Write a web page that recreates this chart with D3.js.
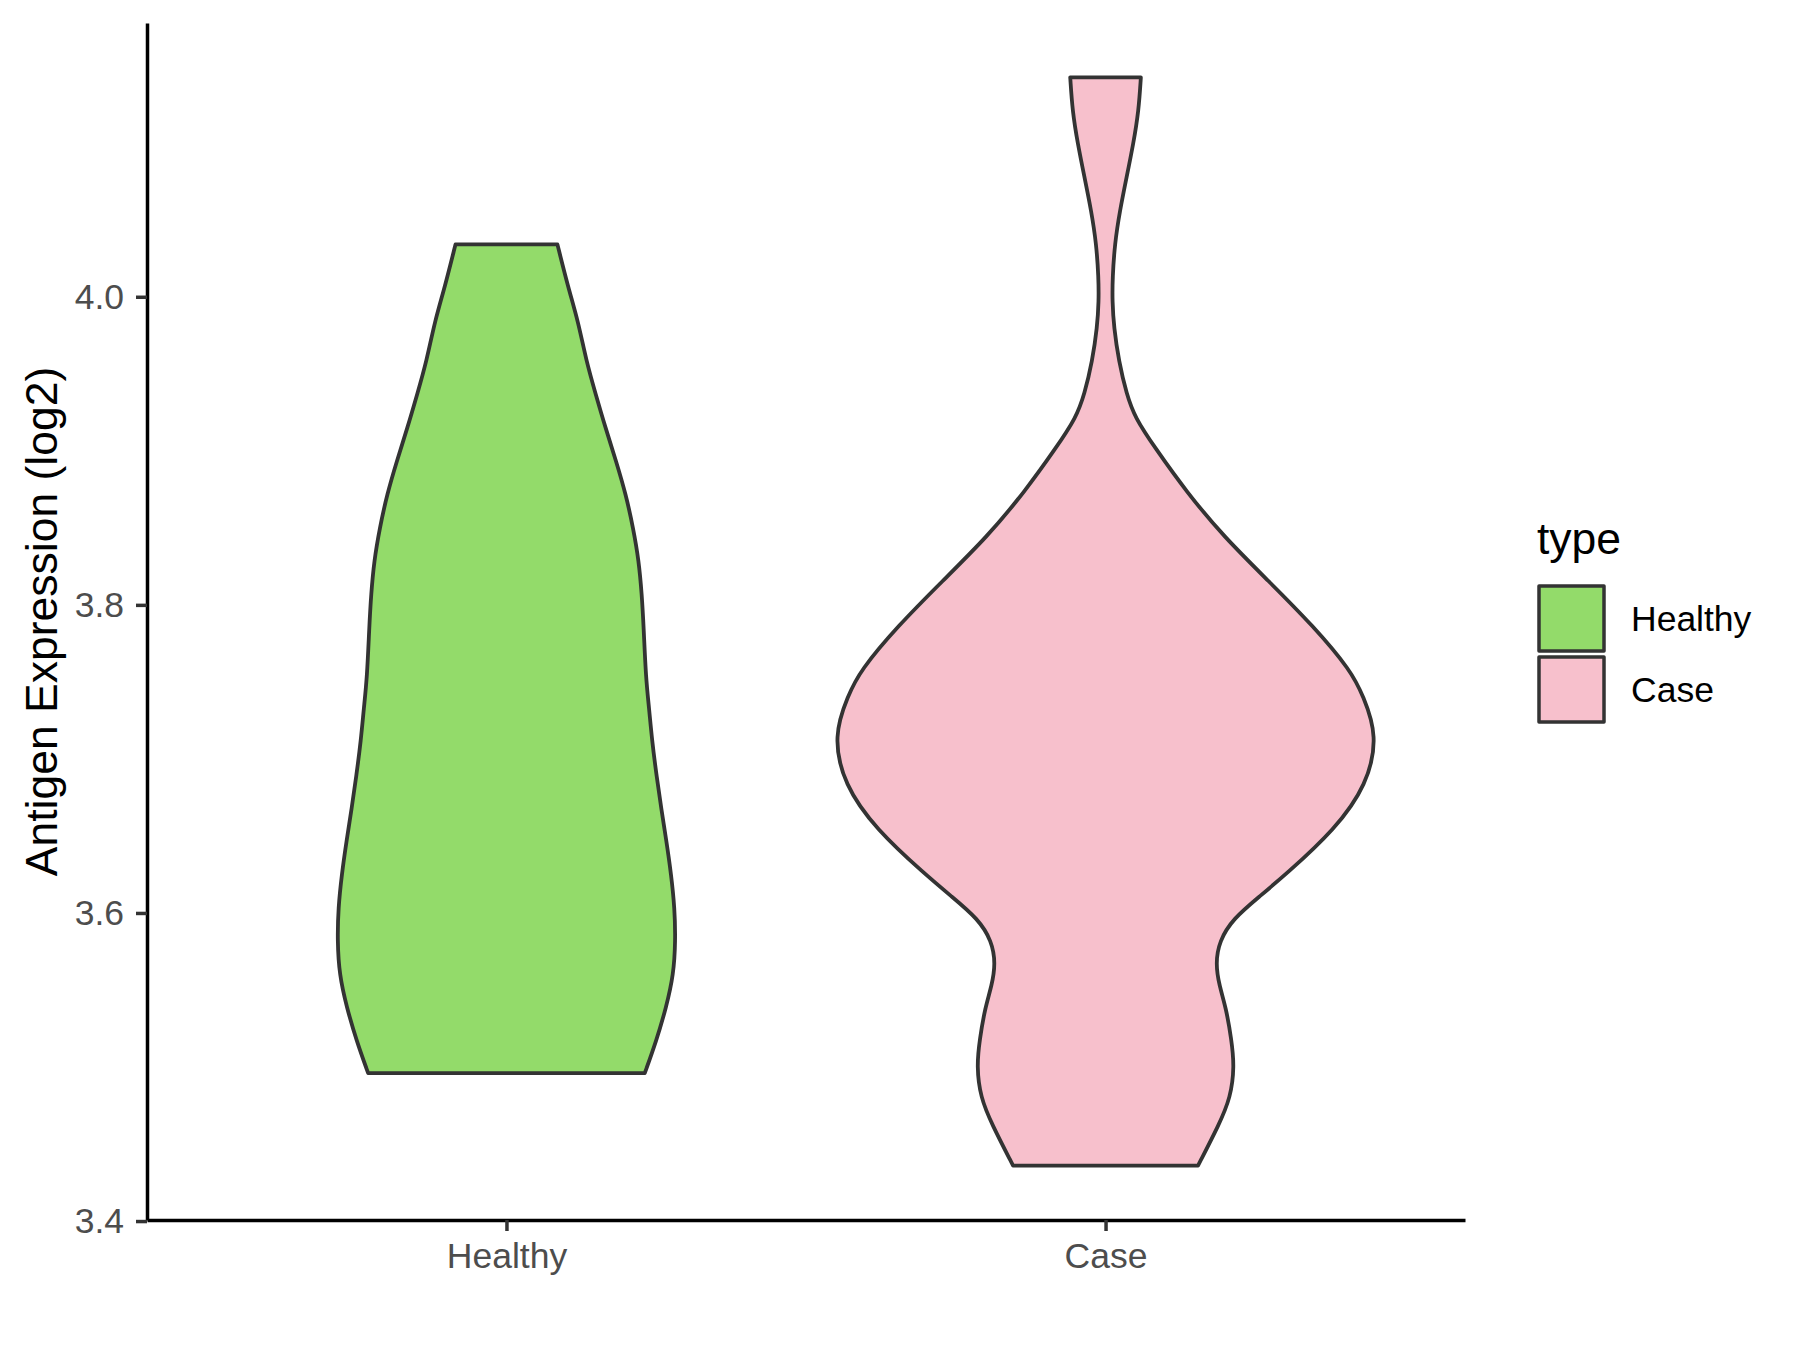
<!DOCTYPE html>
<html>
<head>
<meta charset="utf-8">
<script src="https://cdn.jsdelivr.net/npm/d3@7"></script>
<style>
  body { margin: 0; background: #fff; }
  text { font-family: "Liberation Sans", Arial, sans-serif; }
</style>
</head>
<body>
<div id="chart"></div>
<script>
// categories and fill colours
var groups = ["Healthy", "Case"];
var fills = ["#93DB6A", "#F7C0CC"];

// violin outlines: expression value and relative density
var healthyValues = [4.034, 4.006, 3.984, 3.9584, 3.9368, 3.9151, 3.8932, 3.8716, 3.850, 3.8286, 3.8069, 3.7853, 3.7528, 3.733, 3.712, 3.690, 3.668, 3.647, 3.625, 3.603, 3.582, 3.560, 3.539, 3.517, 3.496];
var healthyDensity = [0.189, 0.229, 0.266, 0.296, 0.331, 0.367, 0.407, 0.443, 0.470, 0.491, 0.502, 0.509, 0.517, 0.529, 0.540, 0.556, 0.574, 0.593, 0.611, 0.624, 0.627, 0.620, 0.593, 0.556, 0.513];

var caseValues = [4.1424, 4.1208, 4.0992, 4.0775, 4.0558, 4.0342, 4.0125, 3.9974, 3.9801, 3.9584, 3.9368, 3.9216, 3.9026, 3.8734, 3.8442, 3.8156, 3.7864, 3.7571, 3.7412, 3.7151, 3.6831, 3.6542, 3.6252, 3.6107, 3.5961, 3.5818, 3.5672, 3.5527, 3.5383, 3.5179, 3.5005, 3.4803, 3.4629, 3.436];
var caseDensity = [0.131, 0.123, 0.103, 0.078, 0.053, 0.034, 0.026, 0.025, 0.031, 0.049, 0.078, 0.109, 0.181, 0.300, 0.439, 0.604, 0.770, 0.911, 0.955, 1.010, 0.970, 0.851, 0.670, 0.571, 0.472, 0.422, 0.408, 0.422, 0.447, 0.467, 0.478, 0.464, 0.422, 0.343];

var yTicks = [3.4, 3.6, 3.8, 4.0];

(function() {
var width = 1800,
    height = 1350;
var padL = 147, padR = 1465, padT = 23, padB = 1220;

var svg = d3.select("#chart")
  .append("svg")
  .attr("width", width)
  .attr("height", height);

svg.append("rect").attr("width", width).attr("height", height).attr("fill", "#fff");

var violins = [
  { name: groups[0], fill: fills[0], pts: healthyValues.map(function(v, i) { return { v: v, d: healthyDensity[i] }; }) },
  { name: groups[1], fill: fills[1], pts: caseValues.map(function(v, i) { return { v: v, d: caseDensity[i] }; }) }
];

var ext = d3.extent(healthyValues.concat(caseValues));
var pad = (ext[1] - ext[0]) * 0.05;

var x = d3.scalePoint().domain(groups).range([padL, padR]).padding(0.6);
var y = d3.scaleLinear().domain([ext[0] - pad, ext[1] + pad]).range([padB, padT]);
// widest violin spans 0.9 of a category step
var w = d3.scaleLinear().domain([0, 1]).range([0, x.step() * 0.45]);

violins.forEach(function(g) {
  var cx = x(g.name);
  var area = d3.area()
    .curve(d3.curveBasis)
    .y(function(d) { return y(d.v); })
    .x0(function(d) { return cx - w(d.d); })
    .x1(function(d) { return cx + w(d.d); });
  svg.append("path")
    .datum(g.pts)
    .attr("d", area)
    .attr("fill", g.fill)
    .attr("stroke", "#333333")
    .attr("stroke-width", 3.8)
    .attr("stroke-linejoin", "round");
});

// axes
var yAxis = svg.append("g")
  .attr("transform", "translate(" + padL + ",0)")
  .call(d3.axisLeft(y).tickValues(yTicks).tickFormat(d3.format(".1f")).tickSize(11).tickSizeOuter(0).tickPadding(12));

var xAxis = svg.append("g")
  .attr("transform", "translate(0," + padB + ")")
  .call(d3.axisBottom(x).tickSize(11).tickSizeOuter(0).tickPadding(12));

[yAxis, xAxis].forEach(function(a) {
  a.select(".domain").attr("stroke", "#000").attr("stroke-width", 3.5);
  a.selectAll(".tick line").attr("stroke", "#333333").attr("stroke-width", 3.5);
  a.selectAll(".tick text")
    .attr("fill", "#4D4D4D")
    .style("font-size", "35.5px")
    .style("font-family", "'Liberation Sans', Arial, sans-serif");
});

svg.append("text")
  .attr("transform", "translate(57," + ((padT + padB) / 2) + ") rotate(-90)")
  .attr("text-anchor", "middle")
  .style("font-size", "44.5px")
  .attr("fill", "#000")
  .text("Antigen Expression (log2)");

// legend
var legend = svg.append("g").attr("transform", "translate(1537,0)");
legend.append("text")
  .attr("x", 0)
  .attr("y", 554)
  .style("font-size", "44.5px")
  .attr("fill", "#000")
  .text("type");

groups.forEach(function(g, i) {
  var ky = 586 + i * 71;
  legend.append("rect")
    .attr("x", 2)
    .attr("y", ky)
    .attr("width", 65)
    .attr("height", 65)
    .attr("fill", fills[i])
    .attr("stroke", "#333333")
    .attr("stroke-width", 3.5)
    .attr("stroke-linejoin", "round");
  legend.append("text")
    .attr("x", 94)
    .attr("y", ky + 32.5)
    .attr("dy", "0.35em")
    .style("font-size", "35.5px")
    .attr("fill", "#000")
    .text(g);
});
})();
</script>
</body>
</html>
